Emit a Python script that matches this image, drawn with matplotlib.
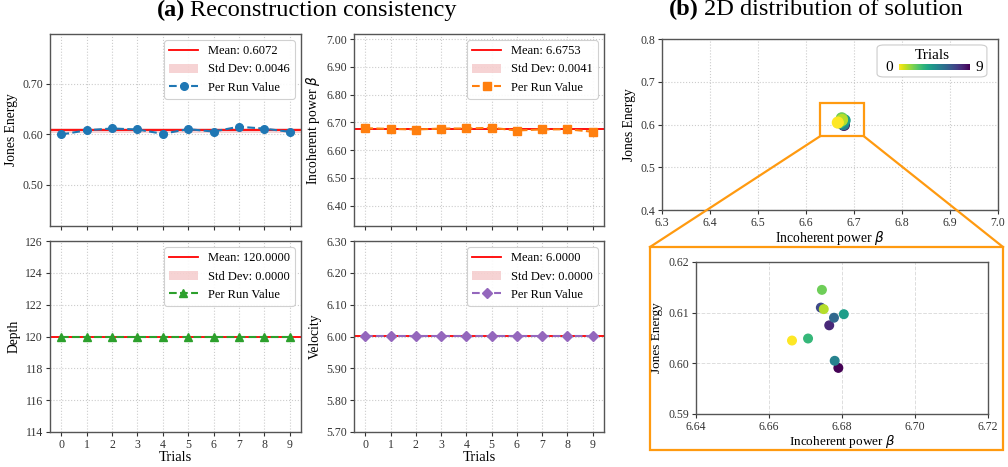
"""
Reconstruction consistency over 10 trials and the 2D spread of the solutions.
"""

import numpy as np
import matplotlib.pyplot as plt
from matplotlib.patches import Rectangle, FancyBboxPatch
from matplotlib.lines import Line2D

plt.rcParams['font.family'] = ['Liberation Serif', 'DejaVu Serif']
plt.rcParams['mathtext.fontset'] = 'dejavusans'

#=============================
# data
#=============================

trials = np.arange(10)

jones = [0.5991, 0.6075, 0.6110, 0.6090, 0.6005, 0.6097, 0.6049, 0.6145, 0.6107, 0.6045]
beta = [6.6790, 6.6765, 6.6742, 6.6778, 6.6780, 6.6805, 6.6707, 6.6745, 6.6750, 6.6663]
depth = [120.0] * 10
velocity = [6.0] * 10

# reported statistics
jones_mean, jones_std = 0.6072, 0.0046
beta_mean, beta_std = 6.6753, 0.0041
depth_mean, depth_std = 120.0, 0.0
velocity_mean, velocity_std = 6.0, 0.0

W, H = 1008, 467
fig = plt.figure(figsize=(W / 100, H / 100), dpi=100)


def px_axes(x0, y0, x1, y1):
    # axes from pixel box (top-left origin)
    return fig.add_axes([x0 / W, 1 - y1 / H, (x1 - x0) / W, (y1 - y0) / H])


def style(ax):
    for s in ax.spines.values():
        s.set_color('#555555')
        s.set_linewidth(1.0)
    ax.tick_params(colors='#333333', labelsize=8.5, length=3, width=0.8, pad=2)
    ax.grid(True, linestyle=':', color='#cccccc', linewidth=0.8)


def consistency_panel(ax, values, mean, std, color, marker, ylabel, ylim, yticks, fmt, show_x):
    ax.axhline(mean, color='red', lw=1.3, label=f"Mean: {mean:.4f}", zorder=2)
    ax.axhspan(mean - std, mean + std, color='tab:red', alpha=0.2, lw=0,
               label=f"Std Dev: {std:.4f}", zorder=1)
    ax.plot(trials, values, linestyle='--', marker=marker, color=color, lw=1.5,
            markersize=5.5, label="Per Run Value", zorder=3)
    ax.set_ylim(*ylim)
    ax.set_yticks(yticks)
    ax.set_yticklabels([fmt.format(t) for t in yticks])
    ax.set_xticks(trials)
    ax.set_xlim(-0.45, 9.45)
    style(ax)
    if show_x:
        ax.set_xlabel("Trials", fontsize=10.5, labelpad=0)
    else:
        ax.tick_params(labelbottom=False)
    ax.set_ylabel(ylabel, fontsize=9.8, labelpad=3)
    leg = ax.legend(loc='upper right', fontsize=9, framealpha=0.9, edgecolor='#cccccc',
                    handlelength=2.3, borderaxespad=0.5)
    leg.get_frame().set_linewidth(0.8)


ax1 = px_axes(50, 34, 301, 226)
consistency_panel(ax1, jones, jones_mean, jones_std, 'tab:blue', 'o', "Jones Energy",
                  (0.418, 0.798), [0.5, 0.6, 0.7], "{:.2f}", False)

ax2 = px_axes(354, 34, 604, 226)
consistency_panel(ax2, beta, beta_mean, beta_std, 'tab:orange', 's', r"Incoherent power $\beta$",
                  (6.327, 7.018), np.arange(6.4, 7.01, 0.1), "{:.2f}", False)

ax3 = px_axes(50, 241, 301, 432)
consistency_panel(ax3, depth, depth_mean, depth_std, 'tab:green', '^', "Depth",
                  (114, 126), np.arange(114, 127, 2), "{:.0f}", True)

ax4 = px_axes(354, 241, 604, 432)
consistency_panel(ax4, velocity, velocity_mean, velocity_std, 'tab:purple', 'D', "Velocity",
                  (5.7, 6.3), np.arange(5.7, 6.31, 0.1), "{:.2f}", True)


def panel_title(x_px, y_px, tag, text):
    # bold tag followed by the regular title text
    t = fig.text(x_px / W, 1 - y_px / H, tag, fontsize=17.5, fontweight='bold', va='baseline')
    fig.canvas.draw()
    bb = t.get_window_extent()
    fig.text((bb.x1 + 5) / W, 1 - y_px / H, text, fontsize=17.5, va='baseline')


panel_title(157, 16, "(a)", "Reconstruction consistency")
panel_title(669, 15, "(b)", "2D distribution of solution")

#=============================
# (b) scatter of solutions
#=============================

ax5 = px_axes(662, 39, 998, 210)
ax5.scatter(beta, jones, c=trials, cmap='viridis', s=60, zorder=3)
ax5.set_xlim(6.3, 7.0)
ax5.set_ylim(0.4, 0.8)
ax5.set_xticks(np.arange(6.3, 7.01, 0.1))
ax5.set_xticklabels([f"{v:.1f}" for v in np.arange(6.3, 7.01, 0.1)])
ax5.set_yticks(np.arange(0.4, 0.81, 0.1))
ax5.set_yticklabels([f"{v:.1f}" for v in np.arange(0.4, 0.81, 0.1)])
style(ax5)
ax5.set_xlabel(r"Incoherent power $\beta$", fontsize=9.8, labelpad=0)
ax5.set_ylabel("Jones Energy", fontsize=9.8, labelpad=3)

zoom_x, zoom_y, zoom_w, zoom_h = 6.63, 0.573, 0.09, 0.077
orange = '#ff9a10'
ax5.add_patch(Rectangle((zoom_x, zoom_y), zoom_w, zoom_h, fill=False,
                        edgecolor=orange, lw=1.6, zorder=4))

# colour key for trial index
ax5.add_patch(FancyBboxPatch((0.64, 0.778), 0.327, 0.187,
                             boxstyle="round,pad=0,rounding_size=0.02",
                             transform=ax5.transAxes, facecolor='white', edgecolor='#cccccc',
                             lw=0.8, zorder=5))
ax5.text(0.805, 0.905, "Trials", transform=ax5.transAxes, ha='center', va='center',
         fontsize=11, zorder=6)
ax5.text(0.677, 0.832, "0", transform=ax5.transAxes, ha='center', va='center', fontsize=11, zorder=6)
ax5.text(0.943, 0.832, "9", transform=ax5.transAxes, ha='center', va='center', fontsize=11, zorder=6)
cax = px_axes(899, 64, 970, 70)
cax.imshow(np.linspace(0, 9, 256)[None, :], aspect='auto', cmap='viridis_r')
cax.set_axis_off()

#=============================
# zoomed view
#=============================

frame_x0, frame_y0, frame_x1, frame_y1 = 650, 247, 1003, 450
fig.patches.append(Rectangle((frame_x0 / W, 1 - frame_y1 / H), (frame_x1 - frame_x0) / W,
                             (frame_y1 - frame_y0) / H, transform=fig.transFigure,
                             fill=False, edgecolor=orange, lw=1.6))

# connector lines from the box corners to the frame
for bx, fx in [(zoom_x, frame_x0), (zoom_x + zoom_w, frame_x1)]:
    p0 = fig.transFigure.inverted().transform(ax5.transData.transform((bx, zoom_y)))
    fig.lines.append(Line2D([p0[0], fx / W], [p0[1], 1 - frame_y0 / H],
                            transform=fig.transFigure, color=orange, lw=1.6))

ax6 = px_axes(696, 262, 988, 414)
ax6.scatter(beta, jones, c=trials, cmap='viridis', s=38, zorder=3)
ax6.set_xlim(6.64, 6.72)
ax6.set_ylim(0.59, 0.62)
ax6.set_xticks(np.arange(6.64, 6.721, 0.02))
ax6.set_xticklabels([f"{v:.2f}" for v in np.arange(6.64, 6.721, 0.02)])
ax6.set_yticks(np.arange(0.59, 0.621, 0.01))
ax6.set_yticklabels([f"{v:.2f}" for v in np.arange(0.59, 0.621, 0.01)])
style(ax6)
ax6.grid(True, linestyle='--', color='#dddddd', linewidth=0.7)
ax6.set_xlabel(r"Incoherent power $\beta$", fontsize=9.5, labelpad=0)
ax6.set_ylabel("Jones Energy", fontsize=9.5)
ax6.yaxis.set_label_coords(-0.113, 0.5)

fig.savefig("out.png", dpi=100)
